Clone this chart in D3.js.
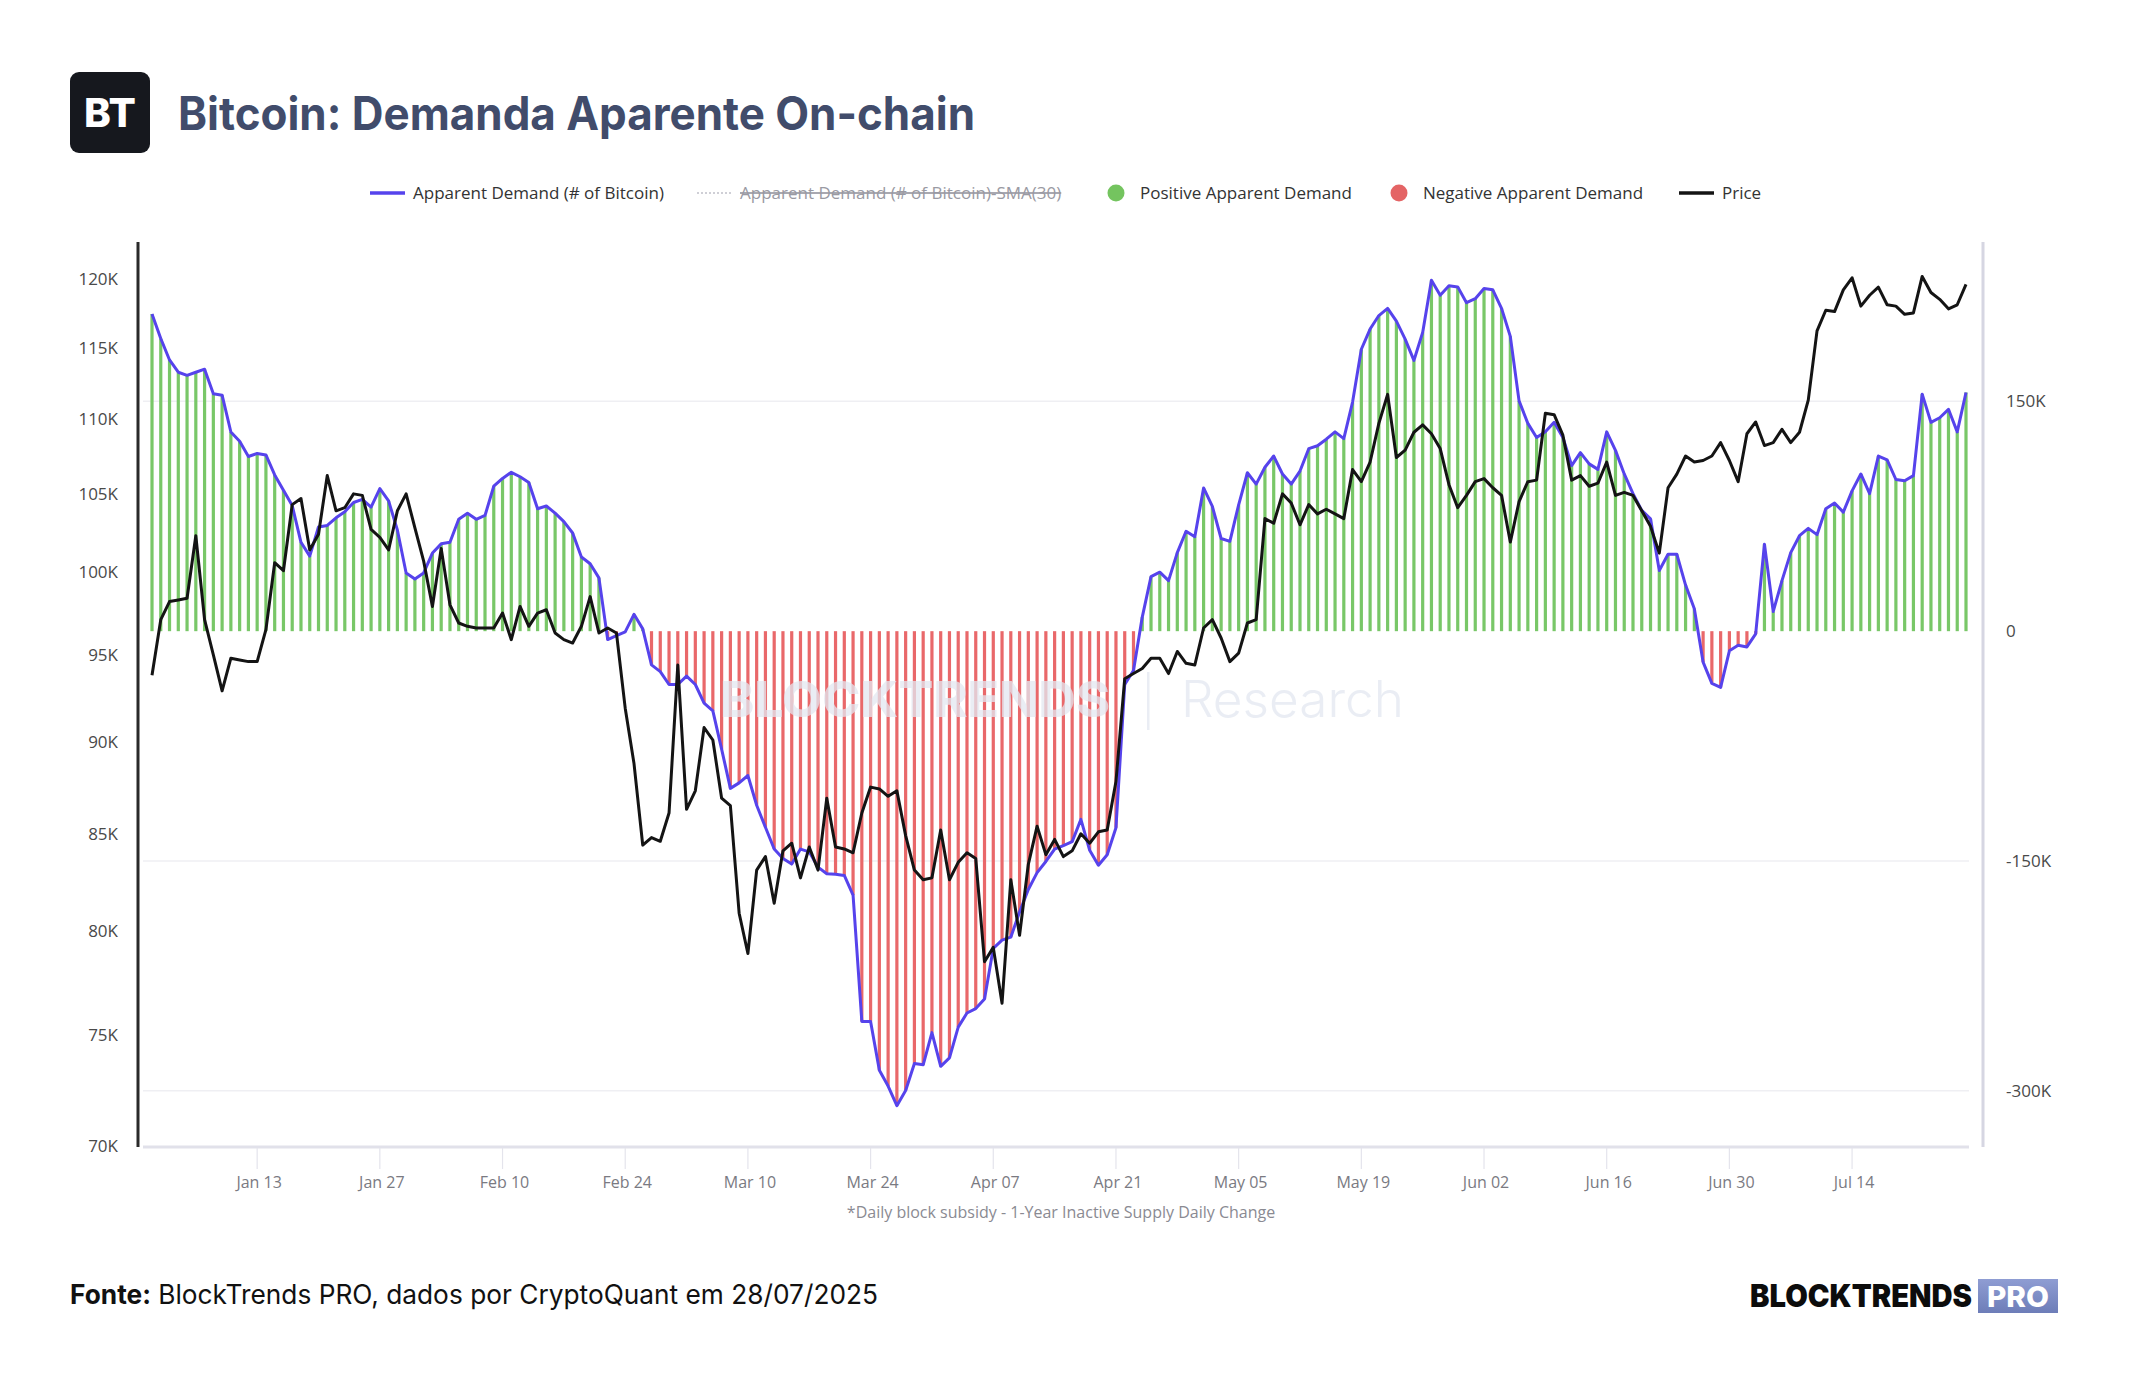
<!DOCTYPE html>
<html><head><meta charset="utf-8">
<script src="https://cdn.jsdelivr.net/npm/d3@7"></script>
<style>body{margin:0;background:#fff;} svg{display:block;}</style>
</head><body>
<svg id="c" width="2144" height="1400"></svg>
<script>
// ---------- DATA ----------
const startDate = "2025-01-01"; // one value per day, Jan 1 -> Jul 27, 2025
// Apparent Demand (# of Bitcoin), thousands
const demandK = [
 207,191,177,169,167,169,171,155,154,130,124,114,116,115,102,92,82,58,49,68,
 69,74,78,84,86,81,93,85,66,38,34,38,51,57,58,73,77,73,75.5,94.6,
 99.7,103.7,100.8,97.1,79.9,81.7,77,71.5,64.1,48.4,44,34.8,-5.5,-2.9,-0.5,11,1.5,-22,-26.4,-34.8,
 -34.8,-29.3,-34.8,-46.9,-52,-77,-102.6,-99,-94.2,-113.6,-128,-142.2,-148.4,-152,-142.2,-144,-154,-158.3,-158.7,-159.4,
 -172.3,-254.7,-254.7,-286.6,-296.9,-309.7,-299.8,-282.2,-283,-262,-284,-278.5,-258.4,-249.2,-246.3,-240,-207,-201.6,-199.7,-183.3,
 -168.6,-157.6,-150.3,-142.2,-140,-137.4,-122.8,-143,-152.8,-145.9,-128.3,-34.8,-25.7,9.2,35.6,38.5,33,51.3,65.2,61.6,
 93.5,81.4,60.5,58.6,82.5,103.4,96,107,114.3,102.6,96,104.5,119.1,121,125.3,130.1,125.7,149.5,184,197.2,
 206,210.7,202.3,190.6,176.7,195,229,219.2,225.4,224.7,214.4,217,223.6,222.8,210.7,192.4,150.3,135.6,126.4,130.1,
 136.3,126.4,108.1,116.5,109.2,105.6,130.1,118,102.6,89.8,78.8,73.3,39.6,50.2,50.2,30.1,14.7,-20.2,-34.1,-36.7,
 -12.8,-9.2,-10.3,-1.8,56.8,12.8,33,51.3,62.3,67.1,63,79.9,83.6,77.7,91.6,102.6,89.8,114.3,111.8,99,
 98.2,101.5,154.7,136.3,139.3,144.8,130.1,155.8
];
// Price (USD), thousands
const priceK = [
 93.8,97.1,98.2,98.3,98.4,102.3,97.1,95.0,92.9,94.8,94.7,94.6,94.6,96.5,100.6,100.1,104.3,104.7,101.4,102.4,
 106.2,103.9,104.1,105.0,104.9,102.7,102.2,101.4,103.9,105.0,102.8,100.7,97.9,101.5,98.0,96.9,96.7,96.6,96.6,96.6,
 97.5,95.9,97.9,96.7,97.5,97.7,96.3,95.9,95.7,96.7,98.5,96.3,96.6,96.3,91.9,88.8,84.4,84.8,84.6,86.1,
 94.4,86.3,87.3,90.8,90.1,86.9,86.5,80.9,78.9,83.1,83.8,81.4,84.1,84.5,82.7,84.3,83.1,86.9,84.3,84.2,
 84.0,86.1,87.5,87.4,87.0,87.3,84.9,83.1,82.6,82.7,85.2,82.6,83.5,84.0,83.7,78.5,79.2,76.5,82.6,79.8,
 83.4,85.4,83.9,84.7,83.8,84.1,85.0,84.5,85.1,85.2,87.8,93.6,93.9,94.2,94.8,94.8,93.9,95.2,94.5,94.4,
 96.6,97.1,96.0,94.6,95.1,96.9,97.1,103.4,103.1,105.0,104.4,103.0,104.3,103.7,104.0,103.7,103.4,106.6,105.8,107.1,
 109.7,111.7,107.4,107.9,109.1,109.6,109.0,108.0,105.6,104.1,104.9,105.8,106.0,105.4,104.9,101.9,104.5,105.8,105.9,110.4,
 110.3,108.9,105.9,106.2,105.5,105.7,107.1,104.9,105.1,104.9,103.9,102.9,101.2,105.4,106.3,107.5,107.1,107.2,107.5,108.4,
 107.2,105.8,109.0,109.8,108.2,108.4,109.3,108.4,109.1,111.3,116.2,117.7,117.6,119.2,120.1,118.0,118.8,119.4,118.1,118.0,
 117.4,117.5,120.2,119.0,118.5,117.8,118.1,119.6
];
const xTickDates = ["2025-01-13","2025-01-27","2025-02-10","2025-02-24","2025-03-10","2025-03-24","2025-04-07",
  "2025-04-21","2025-05-05","2025-05-19","2025-06-02","2025-06-16","2025-06-30","2025-07-14"];
const leftTicks = [70000,75000,80000,85000,90000,95000,100000,105000,110000,115000,120000];
const rightTicks = [150000,0,-150000,-300000];
const rightTickLabels = ["150K","0","-150K","-300K"];
const legendItems = [
  {label:"Apparent Demand (# of Bitcoin)", kind:"line", color:"#5643ec"},
  {label:"Apparent Demand (# of Bitcoin)-SMA(30)", kind:"dotted", color:"#cfcfd6", hidden:true},
  {label:"Positive Apparent Demand", kind:"dot", color:"#74c45f"},
  {label:"Negative Apparent Demand", kind:"dot", color:"#e46465"},
  {label:"Price", kind:"line", color:"#141414"}
];
const titleText = "Bitcoin: Demanda Aparente On-chain";
const noteText = "*Daily block subsidy - 1-Year Inactive Supply Daily Change";

// ---------- CHART ----------
const svg = d3.select("#c");
const parse = d3.utcParse("%Y-%m-%d");
const start = parse(startDate);
const data = demandK.map((d,i)=>({date:d3.utcDay.offset(start,i), demand:d*1000, price:priceK[i]*1000}));

const plotTop = 242, plotBottom = 1146;
const x = d3.scaleUtc().domain([data[0].date, data[data.length-1].date]).range([152, 1966]);
const yL = d3.scaleLog().domain([70000, 122800]).range([plotBottom, plotTop]);
const yR = d3.scaleLinear().domain([-336000, 254000]).range([plotBottom, plotTop]);

const FONT = "'Open Sans', 'DejaVu Sans', sans-serif";

// header
svg.append("rect").attr("x",70).attr("y",72).attr("width",80).attr("height",81).attr("rx",9).attr("fill","#16181e");
svg.append("text").attr("x",110).attr("y",127).attr("text-anchor","middle").attr("fill","#fff")
  .attr("font-family","Inter, sans-serif").attr("font-weight",800).attr("font-size",40).attr("textLength",52)
  .attr("lengthAdjust","spacingAndGlyphs").text("BT");
svg.append("text").attr("x",178).attr("y",130).attr("fill","#414c6b")
  .attr("font-family","Inter, sans-serif").attr("font-weight",700).attr("font-size",46)
  .attr("textLength",797).attr("lengthAdjust","spacingAndGlyphs").text(titleText);

// legend
const legendX = [370, 697, 1108, 1391, 1679];
const lg = svg.append("g").attr("font-family",FONT).attr("font-size",17);
legendItems.forEach((it,i)=>{
  const x0 = legendX[i], cy = 193;
  let tx;
  if(it.kind==="line"){
    lg.append("line").attr("x1",x0).attr("x2",x0+35).attr("y1",cy).attr("y2",cy).attr("stroke",it.color).attr("stroke-width",3.5);
    tx = x0+43;
  } else if(it.kind==="dotted"){
    lg.append("line").attr("x1",x0).attr("x2",x0+35).attr("y1",cy).attr("y2",cy).attr("stroke",it.color).attr("stroke-width",2).attr("stroke-dasharray","2,2");
    tx = x0+43;
  } else {
    lg.append("circle").attr("cx",x0+8).attr("cy",cy).attr("r",8.5).attr("fill",it.color);
    tx = x0+32;
  }
  const t = lg.append("text").attr("x",tx).attr("y",cy+6).attr("fill", it.hidden?"#9a9aa3":"#333").text(it.label);
  if(it.hidden) t.attr("text-decoration","line-through");
});

// gridlines
svg.append("g").selectAll("line").data(rightTicks.filter(d=>d!==0)).join("line")
  .attr("x1",143).attr("x2",1969).attr("y1",d=>yR(d)).attr("y2",d=>yR(d))
  .attr("stroke","#efeff3").attr("stroke-width",1.5);

// bars
svg.append("g").selectAll("rect").data(data).join("rect")
  .attr("x",d=>x(d.date)-1.6).attr("width",3.2)
  .attr("y",d=>Math.min(yR(0),yR(d.demand)))
  .attr("height",d=>Math.abs(yR(d.demand)-yR(0)))
  .attr("fill",d=>d.demand>=0?"#79c768":"#e9686a");

// watermark
const wm = svg.append("g").attr("fill","#e3e8f1").attr("opacity",0.75);
wm.append("text").attr("x",720).attr("y",717).attr("font-family","Inter, sans-serif").attr("font-weight",800)
  .attr("font-size",50).attr("textLength",390).attr("lengthAdjust","spacingAndGlyphs").text("BLOCKTRENDS");
wm.append("rect").attr("x",1147).attr("y",672).attr("width",2.5).attr("height",58);
wm.append("text").attr("x",1181).attr("y",717).attr("font-family","Inter, sans-serif").attr("font-weight",300)
  .attr("font-size",50).attr("textLength",223).attr("lengthAdjust","spacingAndGlyphs").text("Research");

// lines
svg.append("path").datum(data).attr("fill","none").attr("stroke","#5643ec").attr("stroke-width",3)
  .attr("stroke-linejoin","round").attr("d",d3.line().x(d=>x(d.date)).y(d=>yR(d.demand)));
svg.append("path").datum(data).attr("fill","none").attr("stroke","#141414").attr("stroke-width",3)
  .attr("stroke-linejoin","round").attr("d",d3.line().x(d=>x(d.date)).y(d=>yL(d.price)));

// axes lines
svg.append("line").attr("x1",138).attr("x2",138).attr("y1",plotTop).attr("y2",plotBottom+1).attr("stroke","#2a2a2a").attr("stroke-width",3);
svg.append("line").attr("x1",1983).attr("x2",1983).attr("y1",plotTop).attr("y2",plotBottom+1).attr("stroke","#d6d6e2").attr("stroke-width",3);
svg.append("line").attr("x1",143).attr("x2",1969).attr("y1",plotBottom+1).attr("y2",plotBottom+1).attr("stroke","#e1e1ea").attr("stroke-width",3);

// left axis (log)
const la = svg.append("g").attr("font-family",FONT).attr("font-size",17).attr("fill","#4a4a4a");
la.selectAll("text").data(leftTicks).join("text").attr("x",118).attr("y",d=>yL(d)+6)
  .attr("text-anchor","end").text(d=>(d/1000)+"K");

// right axis
const ra = svg.append("g").attr("font-family",FONT).attr("font-size",17).attr("fill","#4a4a4a");
ra.selectAll("text").data(rightTicks).join("text").attr("x",2006).attr("y",d=>yR(d)+6)
  .text((d,i)=>rightTickLabels[i]);

// x axis
const fmt = d3.utcFormat("%b %d");
const xt = svg.append("g").attr("font-family",FONT).attr("font-size",16);
xTickDates.map(parse).forEach(d=>{
  xt.append("line").attr("x1",x(d)).attr("x2",x(d)).attr("y1",plotBottom+2).attr("y2",plotBottom+23).attr("stroke","#e4e4ec").attr("stroke-width",1.2);
  xt.append("text").attr("x",x(d)+2).attr("y",1188).attr("text-anchor","middle").attr("fill","#7a7a82").text(fmt(d));
});
svg.append("text").attr("x",1061).attr("y",1218).attr("text-anchor","middle").attr("font-family",FONT)
  .attr("font-size",16).attr("fill","#8a8a92").text(noteText);

// footer
const ft = svg.append("text").attr("x",70).attr("y",1304).attr("font-family","Inter, sans-serif").attr("font-size",27).attr("fill","#111")
  .attr("textLength",808).attr("lengthAdjust","spacingAndGlyphs");
ft.append("tspan").attr("font-weight",700).text("Fonte:");
ft.append("tspan").attr("font-weight",400).text(" BlockTrends PRO, dados por CryptoQuant em 28/07/2025");

const defs = svg.append("defs");
const gr = defs.append("linearGradient").attr("id","pro").attr("x1",0).attr("y1",0).attr("x2",0).attr("y2",1);
gr.append("stop").attr("offset","0%").attr("stop-color","#8f9dd3");
gr.append("stop").attr("offset","100%").attr("stop-color","#6d7db8");
svg.append("text").attr("x",1750).attr("y",1307).attr("font-family","Inter, sans-serif").attr("font-weight",900)
  .attr("font-size",31).attr("fill","#0c0c0c").attr("textLength",222).attr("lengthAdjust","spacingAndGlyphs").text("BLOCKTRENDS");
svg.append("rect").attr("x",1978).attr("y",1279).attr("width",80).attr("height",34).attr("fill","url(#pro)");
svg.append("text").attr("x",2018).attr("y",1307).attr("text-anchor","middle").attr("font-family","Inter, sans-serif").attr("font-weight",800)
  .attr("font-size",29).attr("fill","#fff").attr("textLength",62).attr("lengthAdjust","spacingAndGlyphs").text("PRO");
</script>
</body></html>
